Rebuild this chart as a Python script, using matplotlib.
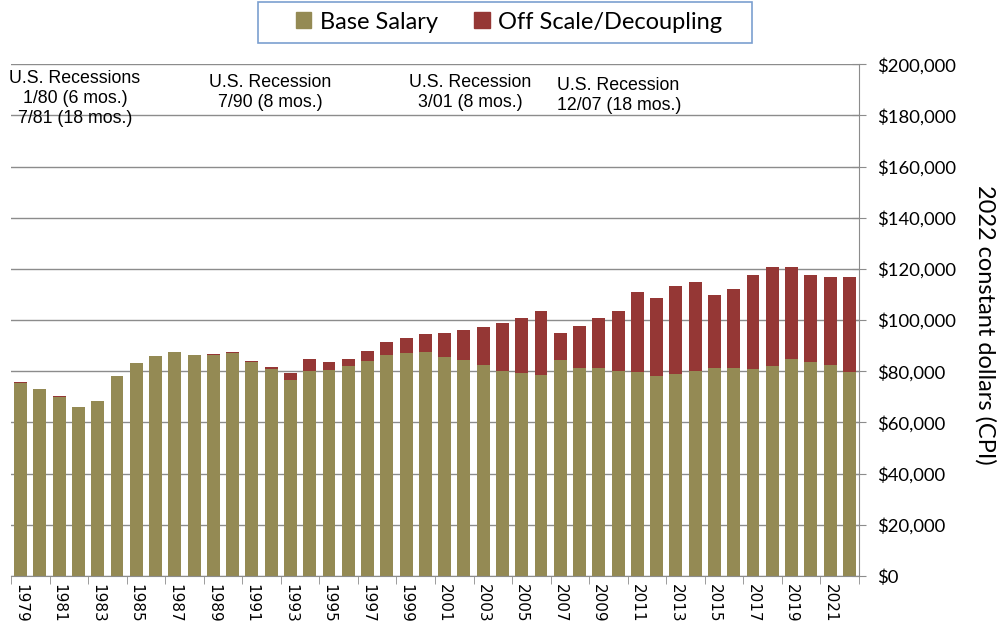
import numpy as np
import matplotlib
matplotlib.use("Agg")
import matplotlib.pyplot as plt
from matplotlib.ticker import FuncFormatter, MultipleLocator
from matplotlib.patches import Patch, Rectangle

# Data (2022 constant dollars, thousands)
years = list(range(1979, 2023))
base_salary = [75.5, 72.9, 70.0, 65.9, 68.2, 78.1, 83.1, 85.9, 87.5, 86.5,
               86.5, 87.0, 83.5, 81.0, 76.7, 80.1, 80.3, 82.0, 84.0, 86.3,
               87.0, 87.5, 85.6, 84.4, 82.4, 80.2, 79.3, 78.4, 84.2, 81.4,
               81.4, 80.2, 79.7, 78.1, 78.8, 80.0, 81.1, 81.1, 80.9, 82.2,
               84.9, 83.7, 82.4, 79.7]
off_scale = [0.15, 0.1, 0.15, 0.15, 0.0, 0.1, 0.1, 0.15, 0.1, 0.0,
             0.4, 0.4, 0.5, 0.6, 2.6, 4.5, 3.3, 2.6, 3.8, 5.0,
             6.0, 6.9, 9.3, 11.6, 14.9, 18.6, 21.4, 25.0, 10.7, 16.1,
             19.4, 23.4, 31.2, 30.4, 34.6, 34.7, 28.5, 30.9, 36.9, 38.5,
             35.8, 34.1, 34.4, 37.2]
series_names = ["Base Salary", "Off Scale/Decoupling"]
recession_notes = [
    ("U.S. Recessions\n1/80 (6 mos.)\n7/81 (18 mos.)", 0.075, 0.889, "center"),
    ("U.S. Recession\n7/90 (8 mos.)", 0.270, 0.883, "center"),
    ("U.S. Recession\n3/01 (8 mos.)", 0.470, 0.883, "center"),
    ("U.S. Recession\n12/07 (18 mos.)", 0.557, 0.878, "left"),
]

base_color = "#948a54"
off_color = "#953735"
grid_color = "#8c8c8c"

base = np.array(base_salary) * 1000
off = np.array(off_scale) * 1000
x = np.arange(len(years))

fig = plt.figure(figsize=(10, 6.3), dpi=100)
ax = fig.add_axes([0.011, 0.086, 0.848, 0.812])

ax.bar(x, base, width=0.67, color=base_color, zorder=2)
ax.bar(x, off, width=0.67, bottom=base, color=off_color, zorder=2)

ax.set_xlim(-0.5, len(years) - 0.5)
ax.set_ylim(0, 200000)
ax.yaxis.set_major_locator(MultipleLocator(20000))
ax.yaxis.set_major_formatter(FuncFormatter(lambda v, p: "${:,.0f}".format(v)))
ax.yaxis.tick_right()
ax.yaxis.grid(True, color=grid_color, linewidth=1.0, zorder=0)
ax.set_axisbelow(True)

for s in ["top", "left"]:
    ax.spines[s].set_visible(False)
ax.spines["right"].set_color(grid_color)
ax.spines["bottom"].set_color(grid_color)

ax.tick_params(axis="y", direction="inout", length=10, color=grid_color,
               labelsize=13.3, pad=8)
for lbl in ax.get_yticklabels():
    lbl.set_family("Lato")

ax.set_xticks(x[::2])
ax.set_xticklabels([str(y) for y in years[::2]], rotation=270,
                   fontsize=11, family="DejaVu Sans")
ax.set_xticks(np.arange(-0.5, len(years), 2), minor=True)
ax.tick_params(axis="x", which="major", length=0, pad=6)
ax.tick_params(axis="x", which="minor", length=6, color=grid_color)

fig.text(0.985, 0.485, "2022 constant dollars (CPI)", rotation=270,
         ha="center", va="center", fontsize=17, family="Lato")

for txt, tx, ty, ha in recession_notes:
    fig.text(tx, ty, txt, ha=ha, va="top", fontsize=12.8,
             family="Liberation Sans", linespacing=1.24)

# legend with its own box (wide horizontal padding like the original)
fig.patches.append(Rectangle((0.258, 0.932), 0.494, 0.065,
                             transform=fig.transFigure, fill=False,
                             edgecolor="#7b9fd0", linewidth=1.2))
handles = [Patch(color=base_color), Patch(color=off_color)]
fig.legend(handles, series_names, loc="center",
           bbox_to_anchor=(0.509, 0.965), ncol=2, frameon=False,
           prop={"family": "Lato", "size": 17},
           handlelength=0.65, handleheight=0.65, columnspacing=1.55,
           handletextpad=0.35, borderpad=0, borderaxespad=0)

fig.savefig("out.png", dpi=100)
